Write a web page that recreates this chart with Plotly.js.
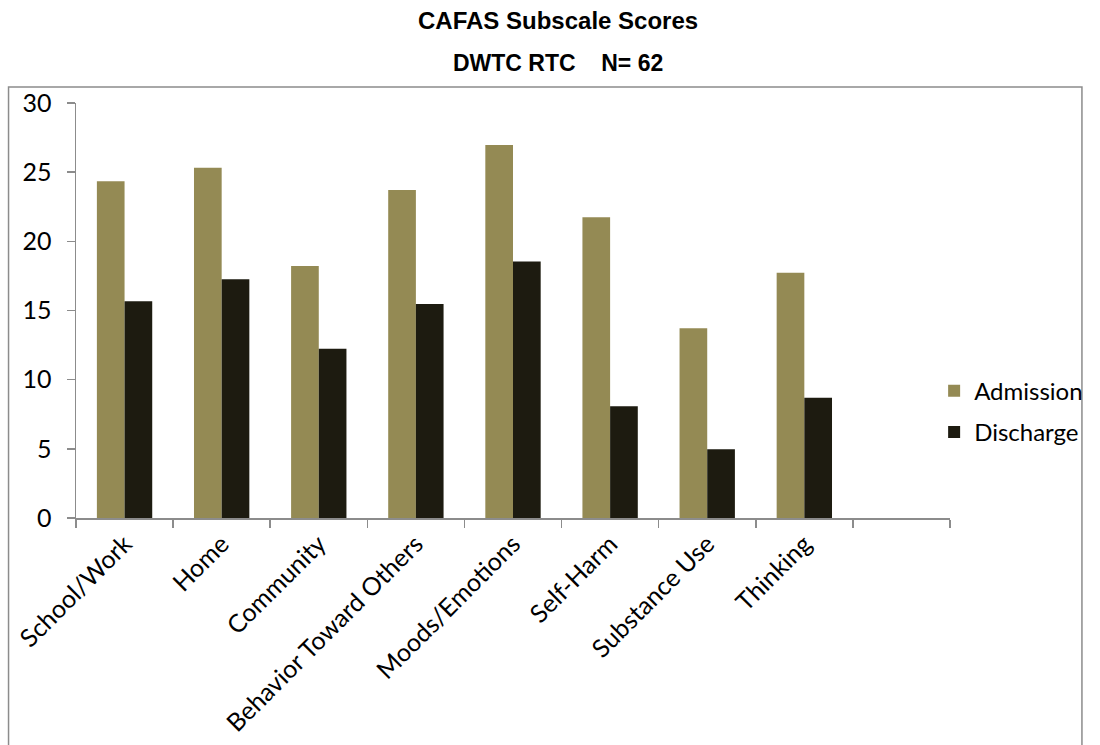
<!DOCTYPE html>
<html>
<head>
<meta charset="utf-8">
<script src="https://cdn.plot.ly/plotly-3.0.1.min.js"></script>
<style>
  html, body { margin: 0; padding: 0; background: #ffffff; }
  #chart { width: 1100px; height: 745px; }
</style>
</head>
<body>
<div id="chart"></div>
<script>
// CAFAS subscale scores at admission and discharge
const chartTitle = 'CAFAS Subscale Scores';
const chartSubtitle = 'DWTC RTC\u00a0\u00a0\u00a0 N= 62';

const categories = ['School/Work', 'Home', 'Community', 'Behavior Toward Others',
                    'Moods/Emotions', 'Self-Harm', 'Substance Use', 'Thinking'];
const admission = [24.35, 25.32, 18.22, 23.71, 26.97, 21.75, 13.71, 17.72];
const discharge = [15.66, 17.26, 12.24, 15.47, 18.54, 8.07, 4.97, 8.69];
const seriesNames = ['Admission', 'Discharge'];
const yTicks = [0, 5, 10, 15, 20, 25, 30];

// an empty slot is kept at the right end of the category axis
const slots = categories.concat(['\u00a0']);
const pad = arr => arr.concat([null]);

const W = 1100, H = 745;
const M = { l: 76, r: 143, t: 103, b: 227 };
const plotW = W - M.l - M.r, plotH = H - M.t - M.b;
const px2x = px => (px - M.l) / plotW;
const px2y = py => (H - M.b - py) / plotH;

const bodyFamily = 'Lato, "Open Sans", sans-serif';
const axisGrey = '#8c8c8c';

const traces = [
  {
    type: 'bar', name: seriesNames[0], x: slots, y: pad(admission),
    marker: { color: '#948A54' }, legendgroup: 'a', hoverinfo: 'x+y+name'
  },
  {
    type: 'bar', name: seriesNames[1], x: slots, y: pad(discharge),
    marker: { color: '#1D1B10' }, legendgroup: 'd', hoverinfo: 'x+y+name'
  }
];

const layout = {
  width: W, height: H,
  margin: M,
  paper_bgcolor: '#ffffff',
  plot_bgcolor: '#ffffff',
  barmode: 'group',
  bargap: 0.43,
  bargroupgap: 0,
  showlegend: true,
  legend: {
    x: px2x(941), xanchor: 'left',
    y: px2y(411.7), yanchor: 'middle',
    font: { family: bodyFamily, size: 24, color: '#000000' },
    traceorder: 'grouped',
    tracegroupgap: 7,
    bgcolor: 'rgba(0,0,0,0)'
  },
  xaxis: {
    type: 'category',
    range: [-0.5, 8.5],
    showgrid: false,
    zeroline: false,
    showline: true, linecolor: axisGrey, linewidth: 1.5,
    ticks: 'outside', tickson: 'boundaries', ticklen: 8, tickcolor: axisGrey, tickwidth: 1.5,
    tickangle: -45,
    tickfont: { family: bodyFamily, size: 25, color: '#000000' },
    fixedrange: true
  },
  yaxis: {
    range: [0, 30],
    tickvals: yTicks,
    ticktext: yTicks.map(String),
    showgrid: false,
    zeroline: false,
    showline: true, linecolor: axisGrey, linewidth: 1.5,
    ticks: 'outside', ticklen: 8, tickcolor: axisGrey, tickwidth: 1.5,
    tickfont: { family: bodyFamily, size: 25, color: '#000000' },
    ticklabelstandoff: 10,
    fixedrange: true
  },
  annotations: [
    {
      text: '<b>' + chartTitle + '</b>', showarrow: false,
      xref: 'paper', yref: 'paper', x: px2x(562), y: px2y(20),
      xanchor: 'center', yanchor: 'middle',
      font: { family: '"Liberation Sans", Arial, sans-serif', size: 24, color: '#000000' }
    },
    {
      text: '<b>' + chartSubtitle + '</b>', showarrow: false,
      xref: 'paper', yref: 'paper', x: px2x(562), y: px2y(63),
      xanchor: 'center', yanchor: 'middle',
      font: { family: '"Liberation Sans", Arial, sans-serif', size: 23, color: '#000000' }
    }
  ],
  shapes: [
    {
      type: 'rect', xref: 'paper', yref: 'paper',
      x0: px2x(8), x1: px2x(1090), y0: px2y(770), y1: px2y(87),
      line: { color: axisGrey, width: 1.5 }, fillcolor: 'rgba(0,0,0,0)', layer: 'below'
    }
  ]
};

Plotly.newPlot('chart', traces, layout, { displayModeBar: false, staticPlot: true });
</script>
</body>
</html>
